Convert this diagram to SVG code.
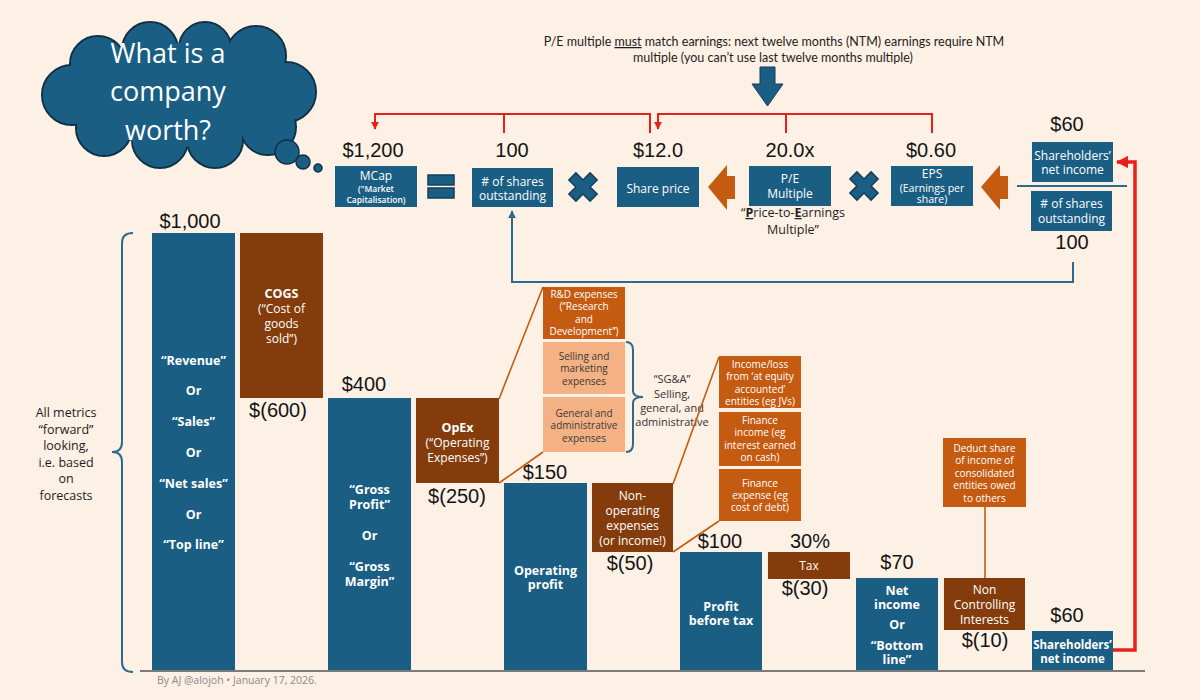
<svg xmlns="http://www.w3.org/2000/svg" width="1200" height="700" viewBox="0 0 1200 700">
<defs>
<style>
.bg{fill:#FDF0E4}
.blue{fill:#1B5E84}
.brown{fill:#843C0C}
.orange{fill:#C55A11}
.salmon{fill:#F4B183}
.num{font-family:"Liberation Sans",Arial,sans-serif;font-size:20px;fill:#141414;text-anchor:middle}
.wt{font-family:"Open Sans","Noto Sans",sans-serif;font-size:12px;fill:#FFFFFF;text-anchor:middle}
.wb{font-family:"Open Sans","Noto Sans",sans-serif;font-size:12.5px;font-weight:700;fill:#FFFFFF;text-anchor:middle}
.ws{font-family:"Open Sans","Noto Sans",sans-serif;font-size:10px;fill:#FFFFFF;text-anchor:middle}
.ds{font-family:"Open Sans","Noto Sans",sans-serif;font-size:10px;fill:#3A3A3A;text-anchor:middle}
.dt{font-family:"Open Sans","Noto Sans",sans-serif;font-size:12.5px;fill:#1E1E1E;text-anchor:middle}
.tiny{font-size:8.5px;font-weight:600}
.eps{font-size:10.5px}
.sg{font-size:11px;fill:#333333}
.shb{font-size:11.5px}
.red{fill:none;stroke:#E8201A;stroke-width:2}
.bl{fill:none;stroke:#2E6A8E;stroke-width:2}
.or{fill:none;stroke:#C55A11;stroke-width:1.6}
.sym{fill:#1B5E84;stroke:#123F5A;stroke-width:1.5}
</style>
<marker id="ar" viewBox="0 0 10 10" refX="9" refY="5" markerWidth="4" markerHeight="4" orient="auto-start-reverse" markerUnits="strokeWidth"><path d="M0,0 L10,5 L0,10 z" fill="#E8201A"/></marker>
<marker id="ab" viewBox="0 0 10 10" refX="9" refY="5" markerWidth="4" markerHeight="4" orient="auto" markerUnits="strokeWidth"><path d="M0,0 L10,5 L0,10 z" fill="#2E6A8E"/></marker>
<marker id="ar2" viewBox="0 0 10 10" refX="9" refY="5" markerWidth="3.5" markerHeight="3.5" orient="auto" markerUnits="strokeWidth"><path d="M0,0 L10,5 L0,10 z" fill="#E8201A"/></marker>
<path id="xm" d="M-5,-15 L5,-15 L5,-5 L15,-5 L15,5 L5,5 L5,15 L-5,15 L-5,5 L-15,5 L-15,-5 L-5,-5 Z"/>
<path id="la" d="M0,0 L19,-22 L19,-11 L27,-11 L27,12 L19,12 L19,23 Z"/>
</defs>
<rect class="bg" x="0" y="0" width="1200" height="700"/>

<g id="cloud">
  <g fill="#1B5E84" stroke="#0F3046" stroke-width="2">
    <circle cx="72" cy="95" r="30"/>
    <circle cx="98" cy="64" r="28"/>
    <circle cx="150" cy="50" r="28"/>
    <circle cx="205" cy="48" r="26"/>
    <circle cx="256" cy="56" r="30"/>
    <circle cx="286" cy="92" r="30"/>
    <circle cx="268" cy="127" r="28"/>
    <circle cx="215" cy="140" r="28"/>
    <circle cx="160" cy="140" r="28"/>
    <circle cx="104" cy="128" r="28"/>
  </g>
  <g fill="#1B5E84">
    <circle cx="72" cy="95" r="29"/>
    <circle cx="98" cy="64" r="27"/>
    <circle cx="150" cy="50" r="27"/>
    <circle cx="205" cy="48" r="25"/>
    <circle cx="256" cy="56" r="29"/>
    <circle cx="286" cy="92" r="29"/>
    <circle cx="268" cy="127" r="27"/>
    <circle cx="215" cy="140" r="27"/>
    <circle cx="160" cy="140" r="27"/>
    <circle cx="104" cy="128" r="27"/>
    <ellipse cx="178" cy="95" rx="100" ry="52"/>
  </g>
  <circle cx="287" cy="152" r="12" fill="#1B5E84" stroke="#0F3046" stroke-width="1.5"/>
  <circle cx="303" cy="162" r="7" fill="#1B5E84" stroke="#0F3046" stroke-width="1.5"/>
  <circle cx="318" cy="168" r="4" fill="#1B5E84" stroke="#0F3046" stroke-width="1.5"/>
  <g font-family="'Open Sans','Noto Sans',sans-serif" font-size="27" fill="#FFFFFF" text-anchor="middle">
    <text x="168" y="63">What is a</text>
    <text x="168" y="101">company</text>
    <text x="168" y="140">worth?</text>
  </g>
</g>

<g id="note">
  <text x="774" y="46" font-family="Lato,'Open Sans',sans-serif" font-size="12.5" fill="#1E1E1E" text-anchor="middle">P/E multiple <tspan text-decoration="underline">must</tspan> match earnings: next twelve months (NTM) earnings require NTM</text>
  <text x="773" y="62" font-family="Lato,'Open Sans',sans-serif" font-size="12.5" fill="#1E1E1E" text-anchor="middle">multiple (you can’t use last twelve months multiple)</text>
  <polygon points="760,67 775,67 775,84 783,84 767.5,106 752,84 760,84" fill="#1B5E84" stroke="#123F5A" stroke-width="1"/>
</g>

<g id="mcap">
  <text class="num" x="373" y="157">$1,200</text>
  <rect class="blue" x="335" y="166" width="82" height="41"/>
  <text class="wt" x="376" y="180">MCap</text>
  <text class="wt tiny" x="376" y="192">("Market</text>
  <text class="wt tiny" x="376" y="203">Capitalisation)</text>
</g>
<g id="equals" class="sym">
  <rect x="428" y="175" width="26" height="10"/>
  <rect x="428" y="188" width="26" height="10"/>
</g>
<g id="shares">
  <text class="num" x="512" y="157">100</text>
  <rect class="blue" x="472" y="168" width="81" height="39"/>
  <text class="wt" x="512.5" y="185.5"># of shares</text>
  <text class="wt" x="512.5" y="199.5">outstanding</text>
</g>
<use id="times1" href="#xm" class="sym" transform="translate(583,187) rotate(45)"/>
<g id="price">
  <text class="num" x="658" y="157">$12.0</text>
  <rect class="blue" x="617" y="167" width="82" height="40"/>
  <text class="wt" x="658" y="192.5">Share price</text>
</g>
<use id="arrow1" href="#la" fill="#C55A11" transform="translate(708,187)"/>
<g id="pe">
  <text class="num" x="790" y="157">20.0x</text>
  <rect class="blue" x="749" y="166" width="82" height="40"/>
  <text class="wt" x="790" y="182.5">P/E</text>
  <text class="wt" x="790" y="197.5">Multiple</text>
  <text class="dt" x="793" y="217">“<tspan font-weight="700" text-decoration="underline">P</tspan>rice-to-<tspan font-weight="700" text-decoration="underline">E</tspan>arnings</text>
  <text class="dt" x="793" y="234">Multiple”</text>
</g>
<use id="times2" href="#xm" class="sym" transform="translate(864,186) rotate(45)"/>
<g id="eps">
  <text class="num" x="931" y="157">$0.60</text>
  <rect class="blue" x="891" y="166" width="82" height="40"/>
  <text class="wt" x="932" y="177.5">EPS</text>
  <text class="wt eps" x="932" y="191.5">(Earnings per</text>
  <text class="wt eps" x="932" y="203">share)</text>
</g>
<use id="arrow2" href="#la" fill="#C55A11" transform="translate(981,187)"/>
<g id="fraction">
  <text class="num" x="1067" y="131">$60</text>
  <rect class="blue" x="1032" y="142" width="81" height="40"/>
  <text class="wt" x="1072.5" y="159.5">Shareholders’</text>
  <text class="wt" x="1072.5" y="173.5">net income</text>
  <line x1="1017" y1="186" x2="1127" y2="186" stroke="#2E6A8E" stroke-width="2"/>
  <rect class="blue" x="1031" y="191" width="81" height="40"/>
  <text class="wt" x="1071.5" y="207.5"># of shares</text>
  <text class="wt" x="1071.5" y="223">outstanding</text>
  <text class="num" x="1072" y="249">100</text>
</g>

<g id="brace-left">
  <path d="M133,233 Q122,233 122,243 L122,442 Q122,452 112,452 Q122,452 122,462 L122,662 Q122,672 133,672" fill="none" stroke="#2E6A8E" stroke-width="2"/>
  <g>
    <text class="dt" x="66" y="417">All metrics</text>
    <text class="dt" x="66" y="433.5">“forward”</text>
    <text class="dt" x="66" y="450">looking,</text>
    <text class="dt" x="66" y="466.5">i.e. based</text>
    <text class="dt" x="66" y="483">on</text>
    <text class="dt" x="66" y="499.5">forecasts</text>
  </g>
</g>

<g id="revenue">
  <text class="num" x="190" y="228">$1,000</text>
  <rect class="blue" x="152" y="233" width="83" height="437"/>
  <text class="wb" x="193.5" y="364.5">“Revenue”</text>
  <text class="wb" x="193.5" y="395">Or</text>
  <text class="wb" x="193.5" y="426">“Sales”</text>
  <text class="wb" x="193.5" y="457">Or</text>
  <text class="wb" x="193.5" y="488">“Net sales”</text>
  <text class="wb" x="193.5" y="518.5">Or</text>
  <text class="wb" x="193.5" y="549">“Top line”</text>
</g>
<g id="cogs">
  <rect class="brown" x="240" y="233" width="83" height="165"/>
  <text class="wb" x="281.5" y="297.5">COGS</text>
  <text class="wt" x="281.5" y="312.5">(“Cost of</text>
  <text class="wt" x="281.5" y="328">goods</text>
  <text class="wt" x="281.5" y="343">sold”)</text>
  <text class="num" x="278" y="417">$(600)</text>
</g>
<g id="gross">
  <text class="num" x="364" y="391">$400</text>
  <rect class="blue" x="328" y="398" width="83" height="272"/>
  <text class="wb" x="369.5" y="494">“Gross</text>
  <text class="wb" x="369.5" y="508.5">Profit”</text>
  <text class="wb" x="369.5" y="539.5">Or</text>
  <text class="wb" x="369.5" y="570.5">“Gross</text>
  <text class="wb" x="369.5" y="585.5">Margin”</text>
</g>
<g id="opex">
  <rect class="brown" x="416" y="398" width="83" height="85"/>
  <text class="wb" x="457.5" y="431.5">OpEx</text>
  <text class="wt" x="457.5" y="446.5">(“Operating</text>
  <text class="wt" x="457.5" y="461.5">Expenses”)</text>
  <text class="num" x="457" y="503">$(250)</text>
</g>
<g id="rnd">
  <rect class="orange" x="543" y="287" width="82" height="52"/>
  <text class="ws" x="584" y="297.5">R&amp;D expenses</text>
  <text class="ws" x="584" y="309.5">(“Research</text>
  <text class="ws" x="584" y="322.5">and</text>
  <text class="ws" x="584" y="334.5">Development”)</text>
</g>
<g id="selling">
  <rect class="salmon" x="543" y="342" width="82" height="52"/>
  <text class="ds" x="584" y="359.5">Selling and</text>
  <text class="ds" x="584" y="371.5">marketing</text>
  <text class="ds" x="584" y="384.5">expenses</text>
</g>
<g id="ga">
  <rect class="salmon" x="543" y="397" width="82" height="55"/>
  <text class="ds" x="584" y="416.5">General and</text>
  <text class="ds" x="584" y="428.5">administrative</text>
  <text class="ds" x="584" y="441.5">expenses</text>
</g>
<g id="sga">
  <path d="M626,342 Q633,342 633,350 L633,391 Q633,397 643,397 Q633,397 633,403 L633,444 Q633,452 626,452" fill="none" stroke="#2E6A8E" stroke-width="2"/>
  <text class="dt sg" x="672" y="383">“SG&amp;A”</text>
  <text class="dt sg" x="672" y="398">Selling,</text>
  <text class="dt sg" x="672" y="412">general, and</text>
  <text class="dt sg" x="672" y="426">administrative</text>
</g>
<g id="opprofit">
  <text class="num" x="545" y="479">$150</text>
  <rect class="blue" x="504" y="483" width="83" height="187"/>
  <text class="wb" x="545.5" y="574.5">Operating</text>
  <text class="wb" x="545.5" y="588.5">profit</text>
</g>
<g id="nonop">
  <rect class="brown" x="592" y="483" width="81" height="69"/>
  <text class="wt" x="632.5" y="499.5">Non-</text>
  <text class="wt" x="632.5" y="515">operating</text>
  <text class="wt" x="632.5" y="530">expenses</text>
  <text class="wt" x="632.5" y="545">(or income!)</text>
  <text class="num" x="630" y="570">$(50)</text>
</g>
<g id="equity">
  <rect class="orange" x="719" y="356" width="82" height="52"/>
  <text class="ws" x="760" y="367.5">Income/loss</text>
  <text class="ws" x="760" y="380">from ‘at equity</text>
  <text class="ws" x="760" y="392.5">accounted’</text>
  <text class="ws" x="760" y="405">entities (eg JVs)</text>
</g>
<g id="finincome">
  <rect class="orange" x="719" y="412" width="82" height="54"/>
  <text class="ws" x="760" y="423.5">Finance</text>
  <text class="ws" x="760" y="435.5">income (eg</text>
  <text class="ws" x="760" y="448.5">interest earned</text>
  <text class="ws" x="760" y="460.5">on cash)</text>
</g>
<g id="finexpense">
  <rect class="orange" x="719" y="469" width="82" height="52"/>
  <text class="ws" x="760" y="486.5">Finance</text>
  <text class="ws" x="760" y="498.5">expense (eg</text>
  <text class="ws" x="760" y="510.5">cost of debt)</text>
</g>
<g id="pbt">
  <text class="num" x="720" y="548">$100</text>
  <rect class="blue" x="680" y="552" width="82" height="118"/>
  <text class="wb" x="721" y="610.5">Profit</text>
  <text class="wb" x="721" y="624.5">before tax</text>
</g>
<g id="tax">
  <text class="num" x="810" y="548">30%</text>
  <rect class="brown" x="768" y="552" width="82" height="27"/>
  <text class="wt" x="809" y="570">Tax</text>
  <text class="num" x="805" y="595">$(30)</text>
</g>
<g id="netincome">
  <text class="num" x="897" y="569">$70</text>
  <rect class="blue" x="856" y="578" width="82" height="92"/>
  <text class="wb" x="897" y="594.5">Net</text>
  <text class="wb" x="897" y="608.5">income</text>
  <text class="wb" x="897" y="628.5">Or</text>
  <text class="wb" x="897" y="650">“Bottom</text>
  <text class="wb" x="897" y="664">line”</text>
</g>
<g id="deduct">
  <rect class="orange" x="943" y="438" width="83" height="69"/>
  <text class="ws" x="984.5" y="451.5">Deduct share</text>
  <text class="ws" x="984.5" y="463.5">of income of</text>
  <text class="ws" x="984.5" y="476.5">consolidated</text>
  <text class="ws" x="984.5" y="488.5">entities owed</text>
  <text class="ws" x="984.5" y="501.5">to others</text>
</g>
<g id="nci">
  <rect class="brown" x="944" y="578" width="81" height="52"/>
  <text class="wt" x="984.5" y="594">Non</text>
  <text class="wt" x="984.5" y="608.5">Controlling</text>
  <text class="wt" x="984.5" y="624">Interests</text>
  <text class="num" x="985" y="647">$(10)</text>
</g>
<g id="shni">
  <text class="num" x="1067" y="622">$60</text>
  <rect class="blue" x="1032" y="631" width="81" height="39"/>
  <text class="wb shb" x="1072.5" y="648.5">Shareholders’</text>
  <text class="wb shb" x="1072.5" y="662.5">net income</text>
</g>

<g id="connectors">
  <path class="red" d="M650,133 L650,114 L375,114 L375,129" marker-end="url(#ar)"/>
  <path class="red" d="M504,114 L504,133"/>
  <path class="red" d="M932,133 L932,114 L658,114 L658,129" marker-end="url(#ar)"/>
  <path class="red" d="M786,114 L786,133"/>
  <path d="M1113,650 L1135,650 L1135,162 L1117,162" fill="none" stroke="#E8201A" stroke-width="3.5" marker-end="url(#ar2)"/>
  <path class="bl" d="M1073,262 L1073,282 L512,282 L512,211" marker-end="url(#ab)"/>
  <path class="or" d="M499,399 L543,287"/>
  <path class="or" d="M499,483 L543,452"/>
  <path class="or" d="M673,484 L719,357"/>
  <path class="or" d="M673,552 L719,521"/>
  <path class="or" d="M985,507 L985,578"/>
  <line x1="140" y1="671" x2="1145" y2="671" stroke="#7A7A7A" stroke-width="2"/>
</g>

<text id="footer" x="157" y="684" font-family="'Open Sans','Noto Sans',sans-serif" font-size="10.5" fill="#8A8A8A">By AJ @alojoh • January 17, 2026.</text>
</svg>
